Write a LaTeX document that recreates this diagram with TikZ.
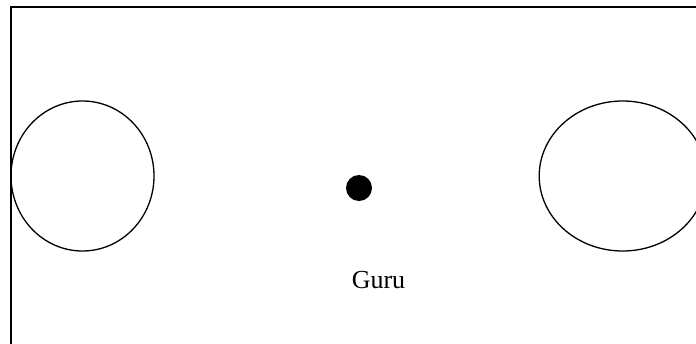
\documentclass[tikz,border=0pt]{standalone}
\usepackage{fontspec}
\setmainfont{Liberation Serif}
\usetikzlibrary{shapes.geometric}
\begin{document}
\begin{tikzpicture}[x=1pt,y=-1pt,
  ring/.style={draw, ellipse, line width=1.3pt, inner sep=0pt},
  frame/.style={line width=1.8pt}]
\useasboundingbox (0,0) rectangle (696,343);
\clip (0,0) rectangle (696,343);
\coordinate (tl) at (11,7);
\coordinate (tr) at (700,7);
\coordinate (bl) at (11,350);
\draw[frame] (tr) -- (tl) -- (bl);
\node[ring, minimum width=143pt, minimum height=150pt] (leftc) at (82.5,176) {};
\node[ring, minimum width=167pt, minimum height=150pt] (rightc) at (622.7,176) {};
\node[circle, fill=black, minimum size=26pt, inner sep=0pt] (dot) at (359,188) {};
\node[anchor=base, font=\fontsize{26}{30}\selectfont, inner sep=0pt] (guru) at (378.5,288.5) {Guru};
\end{tikzpicture}
\end{document}
